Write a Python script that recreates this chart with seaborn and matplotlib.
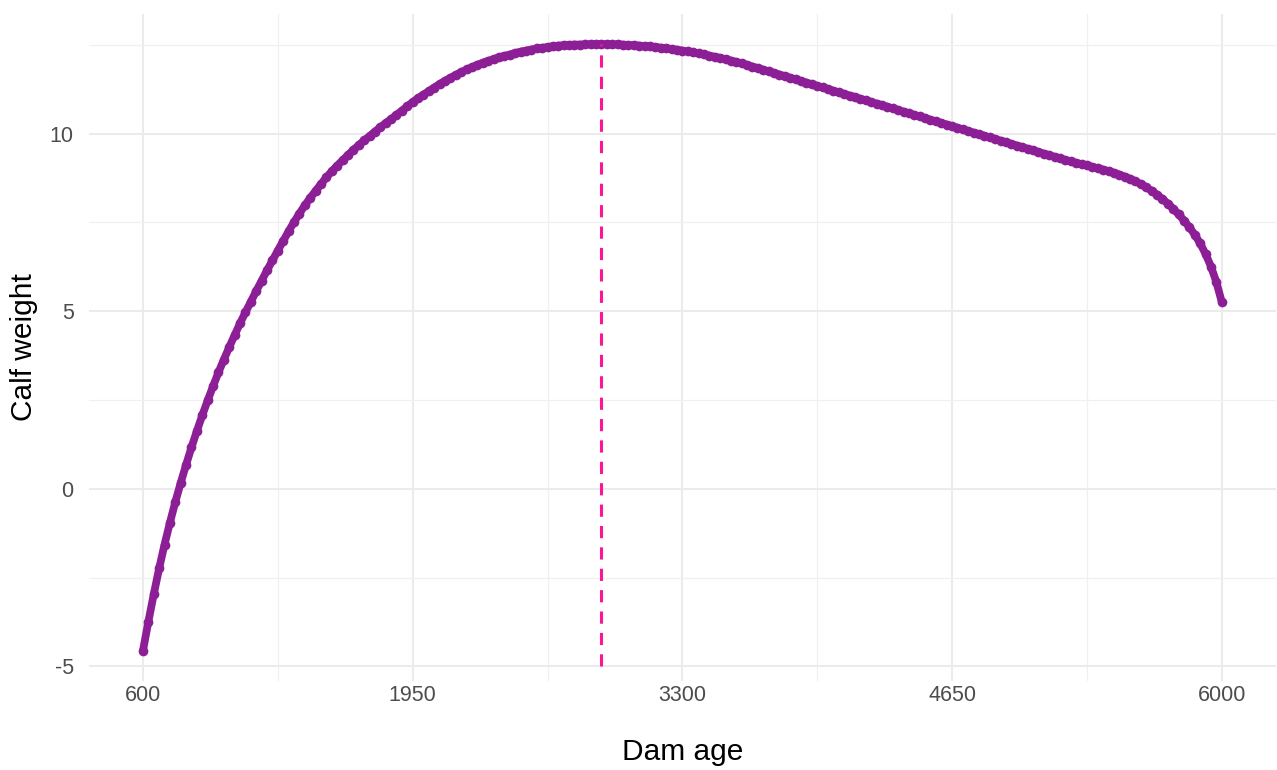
import numpy as np
import pandas as pd
import matplotlib
matplotlib.use("Agg")
import matplotlib.pyplot as plt
import seaborn as sns

# Fitted calf weight along dam age (201 evenly spaced ages from 600 to 6000)
age_start, age_end = 600, 6000
weight = [
    -4.56, -3.74, -2.97, -2.24, -1.57, -0.95, -0.37, 0.17, 0.68, 1.17,
    1.63, 2.07, 2.49, 2.89, 3.28, 3.64, 3.99, 4.33, 4.66, 4.97,
    5.27, 5.57, 5.86, 6.15, 6.43, 6.71, 6.98, 7.25, 7.51, 7.75,
    7.98, 8.19, 8.39, 8.58, 8.77, 8.94, 9.10, 9.25, 9.40, 9.54,
    9.68, 9.81, 9.93, 10.06, 10.18, 10.30, 10.41, 10.53, 10.65, 10.77,
    10.89, 11.00, 11.10, 11.20, 11.30, 11.40, 11.49, 11.57, 11.66, 11.73,
    11.81, 11.87, 11.94, 12.00, 12.05, 12.10, 12.15, 12.19, 12.23, 12.27,
    12.31, 12.34, 12.37, 12.40, 12.42, 12.44, 12.46, 12.48, 12.49, 12.50,
    12.51, 12.51, 12.515, 12.518, 12.520, 12.521, 12.520, 12.518, 12.514, 12.508,
    12.501, 12.492, 12.482, 12.470, 12.456, 12.441, 12.424, 12.406, 12.386, 12.364,
    12.341, 12.316, 12.289, 12.261, 12.232, 12.200, 12.167, 12.133, 12.097, 12.059,
    12.020, 11.979, 11.936, 11.892, 11.847, 11.802, 11.756, 11.711, 11.665, 11.620,
    11.575, 11.529, 11.484, 11.438, 11.393, 11.348, 11.302, 11.257, 11.211, 11.166,
    11.121, 11.075, 11.030, 10.984, 10.939, 10.893, 10.848, 10.803, 10.757, 10.712,
    10.666, 10.621, 10.576, 10.530, 10.485, 10.439, 10.394, 10.348, 10.303, 10.258,
    10.212, 10.167, 10.121, 10.076, 10.031, 9.985, 9.940, 9.894, 9.849, 9.804,
    9.758, 9.713, 9.667, 9.622, 9.576, 9.531, 9.486, 9.440, 9.395, 9.349,
    9.304, 9.260, 9.220, 9.180, 9.144, 9.107, 9.069, 9.030, 8.990, 8.948,
    8.902, 8.851, 8.794, 8.730, 8.659, 8.580, 8.491, 8.392, 8.283, 8.163,
    8.031, 7.887, 7.729, 7.555, 7.365, 7.155, 6.910, 6.610, 6.260, 5.820,
    5.260,
]
dam_age = np.linspace(age_start, age_end, len(weight))

x_ticks = [600, 1950, 3300, 4650, 6000]
x_minor = [1275, 2625, 3975, 5325]
y_ticks = [-5, 0, 5, 10]
y_minor = [-2.5, 2.5, 7.5, 12.5]
segment_floor = -5

df = pd.DataFrame({"dam_age": dam_age, "calf_weight": weight})
peak = df.loc[df["calf_weight"].idxmax()]

sns.set_theme(style="white")
plt.rcParams["font.family"] = ["Liberation Sans", "DejaVu Sans"]

fig = plt.figure(figsize=(12.77, 7.70), dpi=100)
ax = fig.add_axes([0.0697, 0.1156, 0.9293, 0.8662])

line_color = "#8C1F96"
sns.lineplot(data=df, x="dam_age", y="calf_weight", ax=ax, color=line_color,
             linewidth=5.6, marker="o", markersize=7, markeredgewidth=0,
             errorbar=None, zorder=3)

# dashed marker of the age with the highest fitted weight
ax.plot([peak["dam_age"], peak["dam_age"]], [segment_floor, peak["calf_weight"]],
        color="#FF1493", linewidth=2.2, linestyle=(0, (4, 3)), zorder=4)

ax.set_xlim(330, 6270)
ax.set_ylim(-5.41, 13.37)
ax.set_xticks(x_ticks)
ax.set_xticks(x_minor, minor=True)
ax.set_yticks(y_ticks)
ax.set_yticks(y_minor, minor=True)
ax.set_xticklabels([str(v) for v in x_ticks])
ax.set_yticklabels([str(v) for v in y_ticks])

ax.grid(which="major", color="#EBEBEB", linewidth=1.5, zorder=0)
ax.grid(which="minor", color="#F0F0F0", linewidth=0.9, zorder=0)
ax.set_axisbelow(True)
for s in ax.spines.values():
    s.set_visible(False)

ax.tick_params(axis="both", which="both", length=0, labelsize=15.5, labelcolor="#4D4D4D")
ax.tick_params(axis="x", pad=3)
ax.tick_params(axis="y", pad=11)

ax.set_xlabel("Dam age", fontsize=21.5, color="black")
ax.set_ylabel("Calf weight", fontsize=21.5, color="black")
ax.xaxis.label.set_va("bottom")
ax.yaxis.label.set_va("center")
ax.xaxis.set_label_coords(0.5, -0.1275)
ax.yaxis.set_label_coords(-0.055, 0.5)

fig.savefig("out.png", dpi=100, facecolor="white")
